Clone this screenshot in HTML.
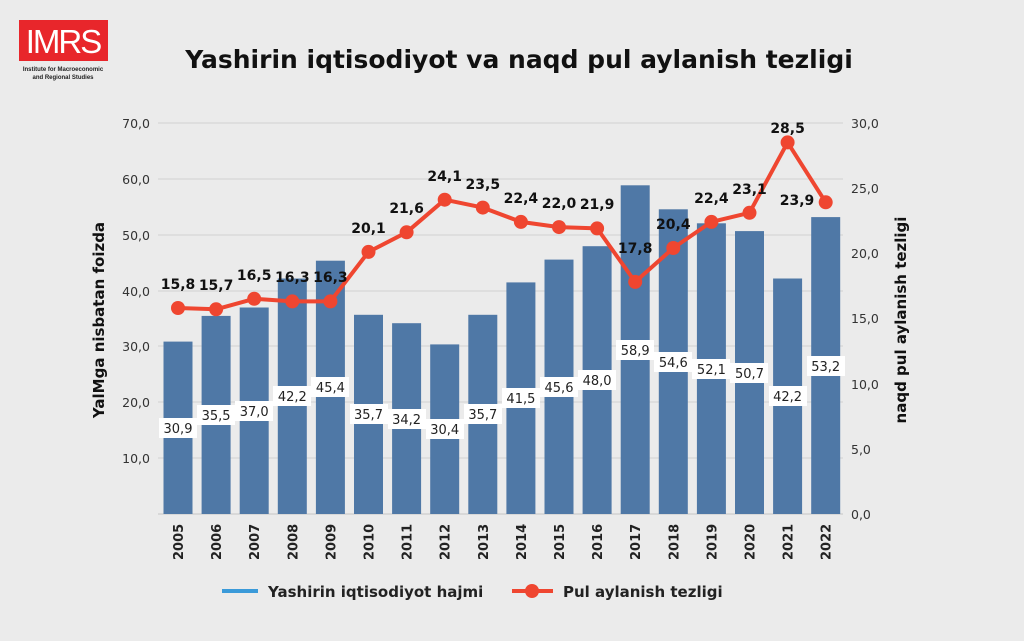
<!DOCTYPE html>
<html><head><meta charset="utf-8"><style>
body{margin:0;background:#ebebeb;}
svg{display:block;font-family:"DejaVu Sans","Liberation Sans",sans-serif;}
</style></head><body>
<svg width="1024" height="641" viewBox="0 0 1024 641">
<rect width="1024" height="641" fill="#ebebeb"/>
<!-- logo -->
<rect x="19" y="20" width="89" height="41" fill="#e8262b"/>
<text x="63" y="53" font-size="33" fill="#fff" text-anchor="middle" letter-spacing="-2" font-family="Liberation Sans">IMRS</text>
<text x="63" y="71" font-size="6" font-weight="bold" fill="#222" text-anchor="middle" font-family="Liberation Sans">Institute for Macroeconomic</text>
<text x="63" y="79" font-size="6" font-weight="bold" fill="#222" text-anchor="middle" font-family="Liberation Sans">and Regional Studies</text>
<text x="519" y="68" font-size="25" font-weight="bold" fill="#111" text-anchor="middle">Yashirin iqtisodiyot va naqd pul aylanish tezligi</text>
<!-- grid -->
<g stroke="#d2d2d2" stroke-width="1">
<line x1="158" x2="843" y1="123" y2="123"/><line x1="158" x2="843" y1="179" y2="179"/><line x1="158" x2="843" y1="235" y2="235"/><line x1="158" x2="843" y1="291" y2="291"/><line x1="158" x2="843" y1="346" y2="346"/><line x1="158" x2="843" y1="402" y2="402"/><line x1="158" x2="843" y1="458" y2="458"/><line x1="158" x2="843" y1="514" y2="514" stroke="#c4c4c4"/>
</g>
<g font-size="12.5" fill="#333" text-anchor="end">
<text x="150" y="128">70,0</text><text x="150" y="184">60,0</text><text x="150" y="240">50,0</text><text x="150" y="296">40,0</text><text x="150" y="351">30,0</text><text x="150" y="407">20,0</text><text x="150" y="463">10,0</text>
</g>
<g font-size="12.5" fill="#333">
<text x="851" y="128">30,0</text><text x="851" y="193">25,0</text><text x="851" y="258">20,0</text><text x="851" y="323">15,0</text><text x="851" y="389">10,0</text><text x="851" y="454">5,0</text><text x="851" y="519">0,0</text>
</g>
<text transform="translate(104,320) rotate(-90)" font-size="15" font-weight="bold" fill="#111" text-anchor="middle">YalMga nisbatan foizda</text>
<text transform="translate(906,320) rotate(-90)" font-size="15" font-weight="bold" fill="#111" text-anchor="middle">naqd pul aylanish tezligi</text>
<!-- bars -->
<g fill="#4f78a6">
<rect x="163.5" y="341.6" width="29" height="172.4"/>
<rect x="201.6" y="315.9" width="29" height="198.1"/>
<rect x="239.7" y="307.5" width="29" height="206.5"/>
<rect x="277.8" y="278.5" width="29" height="235.5"/>
<rect x="315.9" y="260.7" width="29" height="253.3"/>
<rect x="354" y="314.8" width="29" height="199.2"/>
<rect x="392.1" y="323.2" width="29" height="190.8"/>
<rect x="430.2" y="344.4" width="29" height="169.6"/>
<rect x="468.3" y="314.8" width="29" height="199.2"/>
<rect x="506.4" y="282.4" width="29" height="231.6"/>
<rect x="544.5" y="259.6" width="29" height="254.4"/>
<rect x="582.6" y="246.2" width="29" height="267.8"/>
<rect x="620.7" y="185.3" width="29" height="328.7"/>
<rect x="658.8" y="209.3" width="29" height="304.7"/>
<rect x="696.9" y="223.3" width="29" height="290.7"/>
<rect x="735" y="231.1" width="29" height="282.9"/>
<rect x="773.1" y="278.5" width="29" height="235.5"/>
<rect x="811.2" y="217.1" width="29" height="296.9"/>
</g>
<!-- bar labels -->
<g fill="#fff">
<rect x="159" y="418" width="38" height="20"/><rect x="197" y="405" width="38" height="20"/><rect x="235" y="401" width="38" height="20"/><rect x="273" y="386" width="38" height="20"/><rect x="311" y="377" width="38" height="20"/><rect x="350" y="404" width="38" height="20"/><rect x="388" y="409" width="38" height="20"/><rect x="426" y="419" width="38" height="20"/><rect x="464" y="404" width="38" height="20"/><rect x="502" y="388" width="38" height="20"/><rect x="540" y="377" width="38" height="20"/><rect x="578" y="370" width="38" height="20"/><rect x="616" y="340" width="38" height="20"/><rect x="654" y="352" width="38" height="20"/><rect x="692" y="359" width="38" height="20"/><rect x="730" y="363" width="38" height="20"/><rect x="769" y="386" width="38" height="20"/><rect x="807" y="356" width="38" height="20"/>
</g>
<g font-size="13" fill="#222" text-anchor="middle">
<text x="178" y="433">30,9</text><text x="216.1" y="420">35,5</text><text x="254.2" y="416">37,0</text><text x="292.3" y="401">42,2</text><text x="330.4" y="392">45,4</text><text x="368.5" y="419">35,7</text><text x="406.6" y="424">34,2</text><text x="444.7" y="434">30,4</text><text x="482.8" y="419">35,7</text><text x="520.9" y="403">41,5</text><text x="559" y="392">45,6</text><text x="597.1" y="385">48,0</text><text x="635.2" y="355">58,9</text><text x="673.3" y="367">54,6</text><text x="711.4" y="374">52,1</text><text x="749.5" y="378">50,7</text><text x="787.6" y="401">42,2</text><text x="825.7" y="371">53,2</text>
</g>
<!-- line -->
<polyline fill="none" stroke="#ef4630" stroke-width="4" stroke-linejoin="round" points="178,308 216.1,309.3 254.2,298.8 292.3,301.4 330.4,301.4 368.5,251.9 406.6,232.3 444.7,199.7 482.8,207.6 520.9,221.9 559,227.1 597.1,228.4 635.2,281.9 673.3,248 711.4,221.9 749.5,212.8 787.6,142.4 825.7,202.3"/>
<g fill="#ef4630">
<circle cx="178" cy="308" r="7"/><circle cx="216.1" cy="309.3" r="7"/><circle cx="254.2" cy="298.8" r="7"/><circle cx="292.3" cy="301.4" r="7"/><circle cx="330.4" cy="301.4" r="7"/><circle cx="368.5" cy="251.9" r="7"/><circle cx="406.6" cy="232.3" r="7"/><circle cx="444.7" cy="199.7" r="7"/><circle cx="482.8" cy="207.6" r="7"/><circle cx="520.9" cy="221.9" r="7"/><circle cx="559" cy="227.1" r="7"/><circle cx="597.1" cy="228.4" r="7"/><circle cx="635.2" cy="281.9" r="7"/><circle cx="673.3" cy="248" r="7"/><circle cx="711.4" cy="221.9" r="7"/><circle cx="749.5" cy="212.8" r="7"/><circle cx="787.6" cy="142.4" r="7"/><circle cx="825.7" cy="202.3" r="7"/>
</g>
<g font-size="14" font-weight="bold" fill="#111" text-anchor="middle">
<text x="178" y="289">15,8</text><text x="216.1" y="290">15,7</text><text x="254.2" y="280">16,5</text><text x="292.3" y="282">16,3</text><text x="330.4" y="282">16,3</text><text x="368.5" y="233">20,1</text><text x="406.6" y="213">21,6</text><text x="444.7" y="181">24,1</text><text x="482.8" y="189">23,5</text><text x="520.9" y="203">22,4</text><text x="559" y="208">22,0</text><text x="597.1" y="209">21,9</text><text x="635.2" y="253">17,8</text><text x="673.3" y="229">20,4</text><text x="711.4" y="203">22,4</text><text x="749.5" y="194">23,1</text><text x="787.6" y="133">28,5</text><text x="797" y="205">23,9</text>
</g>
<!-- years -->
<g font-size="13" font-weight="bold" fill="#222">
<text transform="translate(183,560) rotate(-90)">2005</text><text transform="translate(221.1,560) rotate(-90)">2006</text><text transform="translate(259.2,560) rotate(-90)">2007</text><text transform="translate(297.3,560) rotate(-90)">2008</text><text transform="translate(335.4,560) rotate(-90)">2009</text><text transform="translate(373.5,560) rotate(-90)">2010</text><text transform="translate(411.6,560) rotate(-90)">2011</text><text transform="translate(449.7,560) rotate(-90)">2012</text><text transform="translate(487.8,560) rotate(-90)">2013</text><text transform="translate(525.9,560) rotate(-90)">2014</text><text transform="translate(564,560) rotate(-90)">2015</text><text transform="translate(602.1,560) rotate(-90)">2016</text><text transform="translate(640.2,560) rotate(-90)">2017</text><text transform="translate(678.3,560) rotate(-90)">2018</text><text transform="translate(716.4,560) rotate(-90)">2019</text><text transform="translate(754.5,560) rotate(-90)">2020</text><text transform="translate(792.6,560) rotate(-90)">2021</text><text transform="translate(830.7,560) rotate(-90)">2022</text>
</g>
<!-- legend -->
<line x1="222" x2="258" y1="591" y2="591" stroke="#3a9ad9" stroke-width="4"/>
<text x="268" y="597" font-size="15" font-weight="bold" fill="#222">Yashirin iqtisodiyot hajmi</text>
<line x1="512" x2="553" y1="591" y2="591" stroke="#ef4630" stroke-width="4"/>
<circle cx="532" cy="591" r="7" fill="#ef4630"/>
<text x="563" y="597" font-size="15" font-weight="bold" fill="#222">Pul aylanish tezligi</text>
</svg>
</body></html>
